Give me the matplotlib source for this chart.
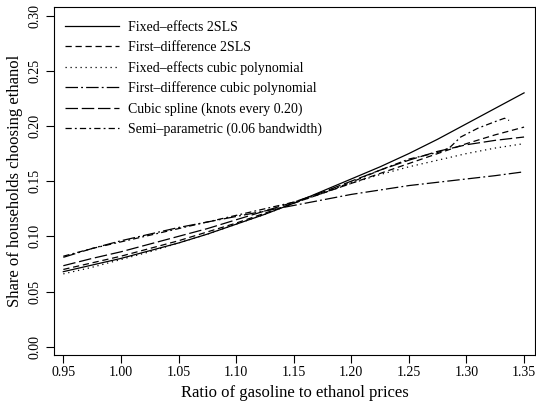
import matplotlib
matplotlib.use("Agg")
import matplotlib.pyplot as plt

# price ratio grid
ratio = [0.95, 0.975, 1.00, 1.025, 1.05, 1.075, 1.10, 1.125, 1.15,
         1.175, 1.20, 1.225, 1.25, 1.275, 1.30, 1.325, 1.35]

fe_2sls = [0.068, 0.074, 0.080, 0.087, 0.094, 0.102, 0.111, 0.120, 0.130,
           0.141, 0.152, 0.163, 0.175, 0.188, 0.202, 0.216, 0.230]
fd_2sls = [0.070, 0.076, 0.082, 0.089, 0.096, 0.104, 0.112, 0.121, 0.130,
           0.139, 0.148, 0.157, 0.166, 0.175, 0.184, 0.192, 0.199]
fe_cubic = [0.066, 0.072, 0.079, 0.086, 0.094, 0.102, 0.111, 0.120, 0.130,
            0.139, 0.148, 0.156, 0.163, 0.169, 0.175, 0.180, 0.184]
fd_cubic = [0.081, 0.089, 0.096, 0.102, 0.108, 0.113, 0.118, 0.123, 0.128,
            0.133, 0.138, 0.142, 0.146, 0.149, 0.152, 0.155, 0.1585]
spline = [0.0734, 0.080, 0.086, 0.093, 0.100, 0.107, 0.115, 0.123, 0.131,
          0.140, 0.150, 0.160, 0.169, 0.177, 0.183, 0.187, 0.190]

# semi-parametric fit has its own support
semi_x = [0.95, 0.975, 1.00, 1.025, 1.05, 1.075, 1.10, 1.125, 1.15, 1.175,
          1.20, 1.225, 1.25, 1.275, 1.285, 1.295, 1.31, 1.325, 1.333, 1.337]
semi_y = [0.082, 0.089, 0.095, 0.101, 0.107, 0.113, 0.119, 0.125, 0.131, 0.139,
          0.149, 0.160, 0.170, 0.176, 0.180, 0.190, 0.198, 0.204, 0.207, 0.205]

labels = ["Fixed\u2013effects 2SLS", "First\u2013difference 2SLS",
          "Fixed\u2013effects cubic polynomial", "First\u2013difference cubic polynomial",
          "Cubic spline (knots every 0.20)", "Semi\u2013parametric (0.06 bandwidth)"]

plt.rcParams['font.family'] = ['Liberation Serif', 'DejaVu Serif']

fig = plt.figure(figsize=(5.36, 4.04), dpi=100)
ax = fig.add_axes([54/536, 1 - 355/404, 481/536, 348/404])

lw = 0.9
ax.plot(ratio, fe_2sls, color='black', lw=lw, linestyle='-', label=labels[0])
ax.plot(ratio, fd_2sls, color='black', lw=lw, linestyle=(0, (5, 3)), label=labels[1])
ax.plot(ratio, fe_cubic, color='black', lw=lw, linestyle=(0, (1, 3)), label=labels[2])
ax.plot(ratio, fd_cubic, color='black', lw=lw, linestyle=(0, (10, 2.5, 1.5, 2.5)), label=labels[3])
ax.plot(ratio, spline, color='black', lw=lw, linestyle=(0, (10, 3)), label=labels[4])
ax.plot(semi_x, semi_y, color='black', lw=lw, linestyle=(0, (5, 2.5, 1.5, 2.5)), label=labels[5])

ax.set_xlim(0.9419, 1.3595)
ax.set_ylim(-0.0075, 0.3078)
ax.set_xticks([0.95, 1.00, 1.05, 1.10, 1.15, 1.20, 1.25, 1.30, 1.35])
ax.set_xticklabels(["0.95", "1.00", "1.05", "1.10", "1.15", "1.20", "1.25", "1.30", "1.35"])
ax.set_yticks([0.0, 0.05, 0.10, 0.15, 0.20, 0.25, 0.30])
ax.set_yticklabels(["0.00", "0.05", "0.10", "0.15", "0.20", "0.25", "0.30"], rotation=90, va='center')
ax.tick_params(axis='both', direction='out', length=6, width=0.8, labelsize=10, colors='black')
ax.tick_params(axis='x', pad=2)
ax.tick_params(axis='y', pad=3)
for s in ax.spines.values():
    s.set_linewidth(0.8)

ax.set_xlabel("Ratio of gasoline to ethanol prices", fontsize=12, labelpad=4)
ax.set_ylabel("Share of households choosing ethanol", fontsize=12, labelpad=4)

ax.legend(loc='upper left', bbox_to_anchor=(-0.006, 1.0), frameon=False, fontsize=10,
          handlelength=3.9, handletextpad=0.65, labelspacing=0.5, borderaxespad=0.6)

fig.savefig("out.png", dpi=100)
